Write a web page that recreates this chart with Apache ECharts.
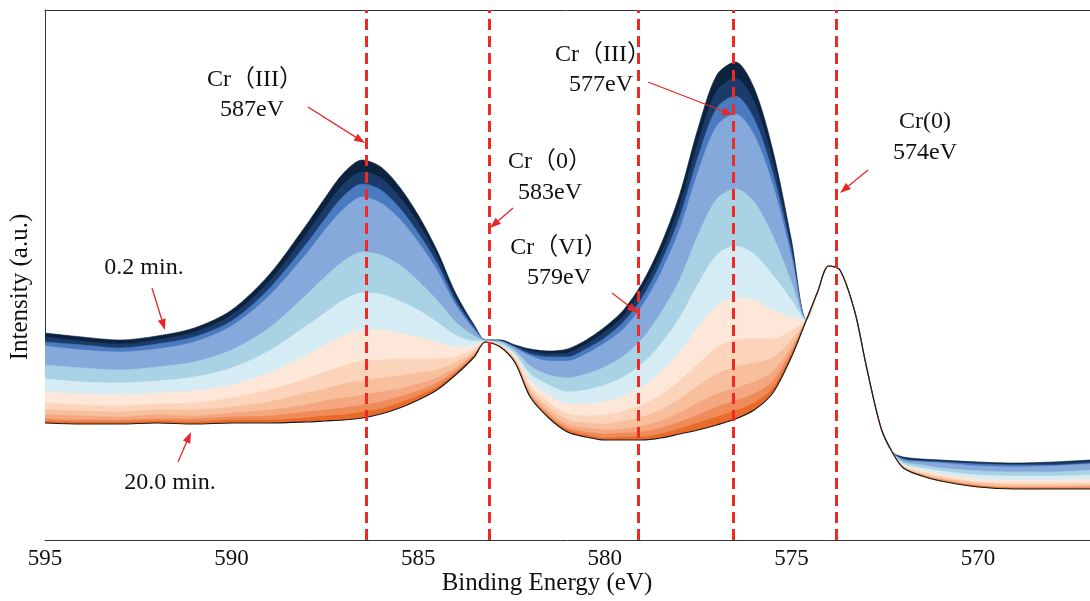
<!DOCTYPE html>
<html>
<head>
<meta charset="utf-8">
<script src="https://cdn.jsdelivr.net/npm/echarts@6/dist/echarts.min.js"></script>
<style>
html,body{margin:0;padding:0;background:#fff;}
#chart{width:1090px;height:601px;}
</style>
</head>
<body>
<div id="chart"></div>
<script>
// Binding energy grid (eV)
const energy = [595,594,593,592,591,590,589,588,587.5,587,586.5,586,585.5,585,584.5,584,583.5,583.2,582.8,582.4,582,581.5,581,580.5,580,579.5,579,578.5,578,577.5,577,576.5,576,575.5,575,574.6,574.3,574,573.7,573.3,573,572.6,572.3,572,571.5,571,570,569,568,567];

// Spectra, from 0.2 min (spec01, top) to 20.0 min (spec13, bottom)
const spec01 = [207,203,200,204,212,230,265,315,342,367,380,373,353,325,290,247,215,200,200,195,191,189,191,200,213,230,257,295,345,412,465,478,452,390,300,220,248,274,270,228,175,112,88,83,81,80,78,77,78,80];
const spec02 = [203,199,196,200,208,225,258,306,332,356,368,362,343,317,284,243,214,200,200,194,189,186,187,196,208,224,250,286,334,398,449,462,438,379,295,220,248,274,270,228,175,112,88,82,80,79,77,76,77,79];
const spec03 = [198,195,192,196,203,219,251,296,321,344,356,350,332,307,277,239,212,200,199,193,186,183,183,191,202,218,242,277,322,383,432,444,421,367,289,220,248,274,270,228,175,112,88,81,79,78,76,75,75,77];
const spec04 = [194,190,188,191,198,214,244,286,310,331,343,337,321,298,270,235,210,200,199,192,184,179,179,186,197,211,234,267,310,368,414,426,405,355,283,220,248,274,270,228,175,112,88,80,78,77,74,73,74,76];
const spec05 = [175,172,170,173,178,190,212,245,263,279,288,285,275,259,240,218,204,199,198,189,174,165,162,166,173,184,201,227,260,305,341,351,338,304,258,220,248,274,270,228,175,112,88,78,75,72,69,68,68,70];
const spec06 = [161,158,157,159,163,172,189,214,227,240,247,246,239,230,218,205,199,199,196,186,166,155,148,150,155,163,176,196,222,256,285,294,286,265,240,220,248,274,270,228,175,112,88,76,72,69,65,64,64,65];
const spec07 = [148,146,145,147,149,155,167,185,195,204,210,210,207,203,198,193,194,199,195,183,159,145,136,136,138,144,153,168,187,213,234,242,240,230,223,220,248,274,270,228,175,112,88,75,70,66,61,60,60,61];
const spec08 = [137,135,134,136,137,142,150,161,168,174,179,180,181,181,181,183,190,199,195,181,154,137,126,124,125,129,135,145,159,176,192,200,201,201,209,220,248,274,270,228,175,112,88,74,68,64,58,57,57,57];
const spec09 = [130,129,128,130,130,133,138,147,151,156,159,162,164,167,170,177,188,198,194,180,150,132,120,117,116,119,123,130,141,154,166,173,177,182,200,220,248,274,270,228,175,112,88,73,66,62,57,55,55,55];
const spec10 = [125,124,123,125,124,127,130,135,139,142,145,148,151,156,162,172,186,198,194,179,147,128,115,112,110,111,114,119,127,137,146,152,158,168,193,220,248,274,270,228,175,112,88,73,65,61,55,53,53,54];
const spec11 = [121,120,120,121,121,123,124,128,130,132,135,138,143,149,157,169,185,198,193,178,145,125,112,108,106,107,108,112,118,125,133,139,146,159,189,220,248,274,270,228,175,112,88,72,65,60,54,52,52,52];
const spec12 = [119,118,118,119,118,120,120,122,124,125,128,131,137,144,153,167,184,198,193,177,144,123,110,105,102,103,103,106,111,117,123,129,137,152,186,220,248,274,270,228,175,112,88,72,64,59,54,52,52,52];
const spec13 = [117,116,116,117,116,117,117,118,119,120,122,126,132,140,150,165,183,198,193,177,143,122,108,103,100,100,100,102,106,110,115,121,130,147,183,220,248,274,270,228,175,112,88,72,64,59,53,51,51,51];

const spectra = [spec01,spec02,spec03,spec04,spec05,spec06,spec07,spec08,spec09,spec10,spec11,spec12,spec13];
const bandColors = ['#0c2340','#1b3c6a','#4a7bc0','#86a9db','#a9d3e5','#d5ecf4','#fde7d9','#fbd4bb','#f8bf9d','#f4a780','#ef8b58','#e96a2a','#ffffff'];

// Reference peak positions (eV)
const peakLines = [586.4, 583.1, 579.1, 576.55, 573.8];
const xTicks = [595,590,585,580,575,570];

const chart = echarts.init(document.getElementById('chart'), null, {renderer:'canvas'});
const serif = "'Liberation Serif','Times New Roman','Noto Sans CJK SC',serif";

const series = spectra.map((arr, k) => ({
  type: 'line',
  name: 'spec' + (k+1),
  xAxisIndex: 0,
  data: energy.map((e, i) => [e, arr[i]]),
  smooth: 0.3,
  symbol: 'none',
  z: 2,
  silent: true,
  lineStyle: k === spectra.length - 1 ? {color:'#1a1a1a', width:1.2} : {color: bandColors[k], width: 0.6},
  areaStyle: {color: bandColors[k], opacity: 1, origin: 'start'}
}));

series.push({
  type: 'line',
  data: [],
  z: 10,
  markLine: {
    silent: true,
    symbol: ['none','none'],
    label: {show:false},
    lineStyle: {color:'#ee2a24', width:3, type:[11,6]},
    data: peakLines.map(v => ({xAxis: v}))
  }
});

function arrow(x1,y1,x2,y2){
  const a = Math.atan2(y2-y1, x2-x1);
  const L = 11, W = 4;
  const bx = x2 - L*Math.cos(a), by = y2 - L*Math.sin(a);
  return [
    {type:'line', shape:{x1:x1,y1:y1,x2:bx,y2:by}, style:{stroke:'#e8262b', lineWidth:1.3}, z:20},
    {type:'polygon', shape:{points:[[x2,y2],[bx - W*Math.sin(a), by + W*Math.cos(a)],[bx + W*Math.sin(a), by - W*Math.cos(a)]]}, style:{fill:'#e8262b'}, z:20}
  ];
}
function label(x,y,t,size){
  return {type:'text', x:x, y:y, z:20, style:{text:t, fill:'#111', font: (size||24)+'px '+serif, align:'center', verticalAlign:'middle'}};
}

const graphics = [
  label(255,80,'Cr（III）'), label(252,110,'587eV'),
  label(550,162,'Cr（0）'), label(550,193,'583eV'),
  label(559,248,'Cr（VI）'), label(559,278,'579eV'),
  label(603,55,'Cr（III）'), label(601,85,'577eV'),
  label(925,122,'Cr(0)'), label(925,153,'574eV'),
  label(144,268,'0.2 min.'), label(170,483,'20.0 min.'),
  label(547,583,'Binding Energy (eV)', 25),
  {type:'text', x:20, y:287, rotation:Math.PI/2, z:20, style:{text:'Intensity (a.u.)', fill:'#111', font:'25px '+serif, align:'center', verticalAlign:'middle'}},
  ...arrow(308,107,365,143),
  ...arrow(513,208,490,228),
  ...arrow(612,293,638,313),
  ...arrow(648,82,733,115),
  ...arrow(868,170,840,193),
  ...arrow(152,288,165,330),
  ...arrow(178,462,191,432)
];

chart.setOption({
  animation: false,
  backgroundColor: '#fff',
  grid: {left:45, right:-5, top:10, bottom:61, containLabel:false},
  xAxis: [{
    type:'value', inverse:true, min:567, max:595,
    axisLine:{show:true, onZero:false, lineStyle:{color:'#333', width:1}},
    axisTick:{show:false},
    splitLine:{show:false},
    axisLabel:{customValues: xTicks, color:'#111', fontFamily:serif, fontSize:23, margin:7}
  },{
    type:'value', inverse:true, min:567, max:595, position:'top',
    axisLine:{show:true, onZero:false, lineStyle:{color:'#333', width:1}},
    axisTick:{show:false}, axisLabel:{show:false}, splitLine:{show:false}
  }],
  yAxis: {
    type:'value', min:0, max:530,
    axisLine:{show:true, onZero:false, lineStyle:{color:'#333', width:1}},
    axisTick:{show:false}, axisLabel:{show:false}, splitLine:{show:false}
  },
  series: series,
  graphic: graphics
});
</script>
</body>
</html>
